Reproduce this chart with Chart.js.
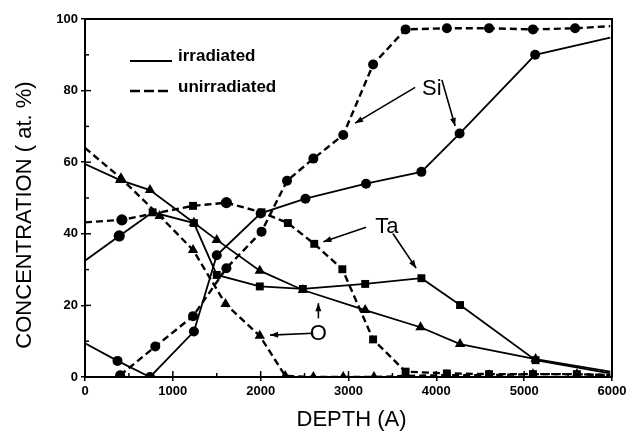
<!DOCTYPE html>
<html>
<head>
<meta charset="utf-8">
<script src="https://cdn.jsdelivr.net/npm/chart.js@4"></script>
<style>
  html, body { margin: 0; padding: 0; background: #fff; }
  #wrap { width: 634px; height: 443px; position: relative; }
</style>
</head>
<body>
<div id="wrap"><canvas id="c"></canvas></div>
<script>
// ---- data ----
const xTicks = [0, 1000, 2000, 3000, 4000, 5000, 6000];
const yTicks = [0, 20, 40, 60, 80, 100];

const siIrrDepth = [0, 370, 740, 1240, 1500, 2000, 2510, 3200, 3830, 4265, 5125, 5980];
const siIrrConc  = [9.4, 4.5, 0, 12.7, 34, 45.7, 49.8, 54, 57.3, 68, 90, 94.8];

const siUnDepth = [400, 800, 1230, 1610, 2010, 2300, 2600, 2940, 3280, 3650, 4120, 4600, 5100, 5580, 5980];
const siUnConc  = [0.5, 8.5, 17, 30.4, 40.6, 54.8, 61, 67.6, 87.3, 97.1, 97.4, 97.4, 97.1, 97.4, 98];

const taIrrDepth = [0, 390, 770, 1240, 1500, 1990, 2480, 3190, 3830, 4270, 5130, 5980];
const taIrrConc  = [32.5, 39.4, 46, 43, 28.5, 25.3, 24.6, 26, 27.6, 20.1, 4.7, 1];

const taUnDepth = [0, 420, 1230, 1610, 2010, 2310, 2610, 2930, 3280, 3650, 4120, 4600, 5100, 5600, 5980];
const taUnConc  = [43.2, 43.9, 47.8, 48.7, 46, 43, 37.2, 30.1, 10.5, 1.5, 1, 0.8, 0.8, 0.8, 0.5];

const oIrrDepth = [0, 400, 740, 1240, 1500, 1990, 2480, 3190, 3820, 4270, 5130, 5980];
const oIrrConc  = [59.5, 55, 52.2, 43.1, 38.3, 29.7, 24.3, 18.7, 13.9, 9.2, 5, 1.5];

const oUnDepth = [0, 410, 850, 1230, 1600, 1990, 2280, 2600, 2940, 3290, 3650, 4120, 4600, 5100, 5600, 5980];
const oUnConc  = [64, 55.5, 45, 35.5, 20.4, 11.5, 0.3, 0, 0, 0, 0.3, 0.5, 0.5, 0.8, 0.8, 0.5];

const legendLabels = ['irradiated', 'unirradiated'];
const xTitle = 'DEPTH (A)';
const yTitle = 'CONCENTRATION ( at. %)';

// annotations: label text with data-space anchor and arrows [from, to]
const notes = [
  { text: 'Si', x: 3949, y: 80.6, arrows: [[[3759, 80.9], [3075, 70.9]], [[4063, 83], [4214, 70.1]]] },
  { text: 'Ta', x: 3436, y: 42, arrows: [[[3200, 41.8], [2714, 37.8]], [[3505, 40.1], [3770, 30.4]]] },
  { text: 'O',  x: 2657, y: 12, arrows: [[[2600, 12.2], [2107, 11.7]], [[2657, 16.4], [2657, 20.6]]] }
];

// ---- helpers ----
const pts = (xs, ys) => xs.map((x, i) => ({ x: x, y: ys[i] }));
const rad = r => ctx => (ctx.raw && (ctx.raw.x <= 0 || ctx.raw.x >= 5950)) ? 0 : r;
const DASH = [7, 4];

function ds(label, xs, ys, style, dashed, r) {
  return {
    label: label,
    data: pts(xs, ys),
    borderColor: '#000',
    backgroundColor: '#000',
    pointBorderColor: '#000',
    pointBackgroundColor: '#000',
    borderWidth: dashed ? 2.4 : 1.8,
    borderDash: dashed ? DASH : [],
    pointStyle: style,
    pointRadius: rad(r),
    pointBorderWidth: 0,
    tension: 0,
    fill: false
  };
}

const taUnStyles = taUnDepth.map((d, i) => (i === 1 || i === 3) ? 'circle' : 'rect');
const taIrrStyles = taIrrDepth.map((d, i) => (i === 1) ? 'circle' : 'rect');

const datasets = [
  ds('Si irradiated', siIrrDepth, siIrrConc, 'circle', false, 5),
  ds('Si unirradiated', siUnDepth, siUnConc, 'circle', true, 5),
  ds('Ta irradiated', taIrrDepth, taIrrConc, taIrrStyles, false, 5.6),
  ds('Ta unirradiated', taUnDepth, taUnConc, taUnStyles, true, 5.6),
  ds('O irradiated', oIrrDepth, oIrrConc, 'triangle', false, 6),
  ds('O unirradiated', oUnDepth, oUnConc, 'triangle', true, 6)
];

function arrow(ctx, x1, y1, x2, y2) {
  ctx.beginPath();
  ctx.moveTo(x1, y1);
  ctx.lineTo(x2, y2);
  ctx.stroke();
  const a = Math.atan2(y2 - y1, x2 - x1);
  const L = 8, W = 3;
  ctx.beginPath();
  ctx.moveTo(x2, y2);
  ctx.lineTo(x2 - L * Math.cos(a) + W * Math.sin(a), y2 - L * Math.sin(a) - W * Math.cos(a));
  ctx.lineTo(x2 - L * Math.cos(a) - W * Math.sin(a), y2 - L * Math.sin(a) + W * Math.cos(a));
  ctx.closePath();
  ctx.fill();
}

const decor = {
  id: 'decor',
  afterDraw(chart) {
    const ctx = chart.ctx;
    const a = chart.chartArea;
    const xs = chart.scales.x, ys = chart.scales.y;
    ctx.save();
    ctx.strokeStyle = '#000';
    ctx.fillStyle = '#000';
    // frame
    ctx.lineWidth = 2;
    ctx.setLineDash([]);
    ctx.strokeRect(a.left, a.top, a.right - a.left, a.bottom - a.top);
    // inward ticks
    ctx.lineWidth = 1.5;
    for (let v = 0; v <= 6000; v += 500) {
      const px = xs.getPixelForValue(v);
      const len = (v % 1000 === 0) ? 6 : 4;
      ctx.beginPath(); ctx.moveTo(px, a.bottom); ctx.lineTo(px, a.bottom - len); ctx.stroke();
    }
    for (let v = 0; v <= 100; v += 10) {
      const py = ys.getPixelForValue(v);
      const len = (v % 20 === 0) ? 6 : 4;
      ctx.beginPath(); ctx.moveTo(a.left, py); ctx.lineTo(a.left + len, py); ctx.stroke();
    }
    // legend
    ctx.lineWidth = 2;
    ctx.beginPath(); ctx.moveTo(130, 61); ctx.lineTo(172, 61); ctx.stroke();
    ctx.lineWidth = 2.6;
    ctx.setLineDash([10, 4]);
    ctx.beginPath(); ctx.moveTo(130, 91); ctx.lineTo(172, 91); ctx.stroke();
    ctx.setLineDash([]);
    ctx.font = 'bold 17px "Liberation Sans", Arial, sans-serif';
    ctx.textAlign = 'left';
    ctx.textBaseline = 'alphabetic';
    ctx.fillText(legendLabels[0], 178, 61);
    ctx.fillText(legendLabels[1], 178, 92);
    // axis titles
    ctx.font = '22px "Liberation Sans", Arial, sans-serif';
    ctx.textAlign = 'center';
    ctx.textBaseline = 'middle';
    ctx.fillText(xTitle, (a.left + a.right) / 2 + 3, 420);
    ctx.save();
    ctx.translate(25, 215);
    ctx.rotate(-Math.PI / 2);
    ctx.fillText(yTitle, 0, 0);
    ctx.restore();
    // annotations
    ctx.lineWidth = 1.6;
    notes.forEach(n => {
      ctx.font = '22px "Liberation Sans", Arial, sans-serif';
      ctx.textAlign = 'center';
      ctx.textBaseline = 'middle';
      ctx.fillText(n.text, xs.getPixelForValue(n.x), ys.getPixelForValue(n.y));
      n.arrows.forEach(ar => {
        arrow(ctx, xs.getPixelForValue(ar[0][0]), ys.getPixelForValue(ar[0][1]),
                   xs.getPixelForValue(ar[1][0]), ys.getPixelForValue(ar[1][1]));
      });
    });
    ctx.restore();
  }
};

new Chart(document.getElementById('c'), {
  type: 'line',
  data: { datasets: datasets },
  options: {
    responsive: true,
    maintainAspectRatio: false,
    animation: false,
    layout: { padding: { left: 0, top: 19, right: 22, bottom: 0 } },
    plugins: { legend: { display: false }, tooltip: { enabled: false } },
    scales: {
      x: {
        type: 'linear', min: 0, max: 6000,
        afterFit: s => { s.height = 66; },
        afterBuildTicks: s => { s.ticks = xTicks.map(v => ({ value: v })); },
        ticks: { color: '#000', font: { family: '"Liberation Sans", Arial, sans-serif', size: 13, weight: 'bold' }, padding: 3, maxRotation: 0, autoSkip: false, callback: v => String(v) },
        grid: { drawOnChartArea: false, color: '#000', lineWidth: 1.5, tickLength: 4 },
        border: { color: '#000', width: 2 }
      },
      y: {
        type: 'linear', min: 0, max: 100,
        afterFit: s => { s.width = 85; },
        afterBuildTicks: s => { s.ticks = yTicks.map(v => ({ value: v })); },
        ticks: { color: '#000', font: { family: '"Liberation Sans", Arial, sans-serif', size: 13, weight: 'bold' }, padding: 3, callback: v => String(v) },
        grid: { drawOnChartArea: false, color: '#000', lineWidth: 1.5, tickLength: 4 },
        border: { color: '#000', width: 2 }
      }
    }
  },
  plugins: [decor]
});
</script>
</body>
</html>
